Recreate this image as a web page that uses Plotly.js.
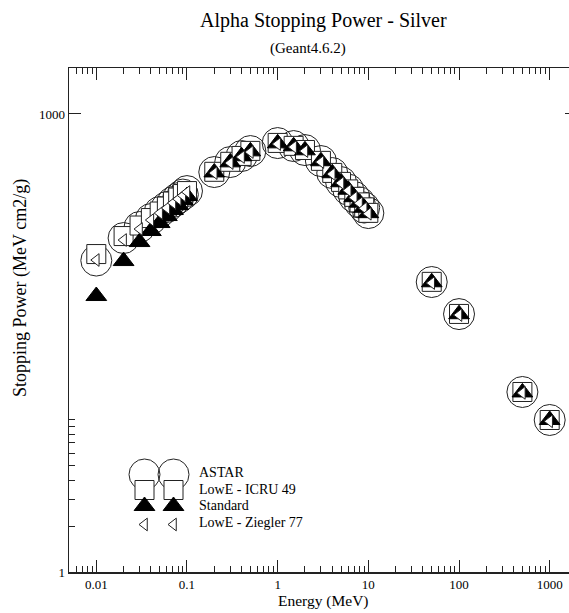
<!DOCTYPE html>
<html>
<head>
<meta charset="utf-8">
<script src="https://cdn.plot.ly/plotly-3.0.1.min.js"></script>
<style>
html, body { margin: 0; padding: 0; overflow: hidden; background: #fff; }
#chart { width: 580px; height: 613px; }
</style>
</head>
<body>
<div id="chart"></div>
<script>
// ---- data (Energy in MeV, Stopping Power in MeV cm2/g) ----
const energy = [0.01, 0.02, 0.03, 0.04, 0.05, 0.06, 0.07, 0.08, 0.09, 0.1,
                0.2, 0.3, 0.4, 0.5, 1, 1.5, 2, 3, 4, 5, 6, 7, 8, 9, 10,
                50, 100, 500, 1000];
const astar = [109.6, 153.9, 181.7, 205.0, 227.9, 245.7, 264.9, 281.3, 296.6, 312.6,
               416.5, 484.2, 530.1, 571.5, 644.8, 616.3, 580.2, 491.6, 410.2, 358.1,
               319.8, 285.6, 263.0, 243.8, 224.4,
               79.3, 48.9, 15.1, 9.9];
const icru49 = [120.9, 158.6, 185.9, 208.1, 229.6, 247.5, 266.9, 283.5, 298.8, 312.6,
                418.0, 486.0, 531.0, 573.0, 646.0, 618.0, 581.0, 493.0, 411.0, 359.0,
                320.5, 286.5, 263.5, 244.5, 225.0,
                79.5, 49.0, 15.1, 9.9];
const standard = [64.2, 108.8, 144.9, 171.1, 193.0, 214.5, 234.8, 253.2, 273.0, 290.0,
                  414.0, 482.0, 528.0, 569.0, 642.0, 614.0, 578.0, 490.0, 409.0, 357.0,
                  319.0, 285.0, 262.5, 243.0, 224.0,
                  79.0, 48.8, 15.0, 9.9];
const ziegler77 = [110.5, 149.4, 176.3, 202.0, 224.4, 242.0, 261.0, 277.2, 292.2, 308.0,
                   410.2, 477.0, 522.2, 563.0, 635.2, 607.1, 571.5, 484.2, 404.1, 352.8,
                   315.0, 283.0, 260.0, 241.0, 222.0,
                   78.1, 48.2, 14.9, 9.7];

const seriesNames = ["ASTAR", "LowE - ICRU 49", "Standard", "LowE - Ziegler 77"];

// ---- ticks ----
const xMajorVals = [0.01, 0.1, 1, 10, 100, 1000];
const xMajorText = ["0.01", "0.1", "1", "10", "100", "1000"];
const yMajorVals = [1, 1000];
const yMajorText = ["1", "1000"];
const yMinorVals = [2, 3, 4, 5, 6, 7, 8, 9, 10];
const xMinorVals = [];
[0.001, 0.01, 0.1, 1, 10, 100, 1000].forEach(function (d) {
  for (let m = 2; m <= 9; m++) {
    const v = d * m;
    if (v > 0.005 && v < 2000) xMinorVals.push(v);
  }
});

// ---- styles ----
const FONT = "Liberation Serif";
const INK = "#222";
const styles = [
  { symbol: "circle", size: 31, color: "rgba(255,255,255,0)", line: { color: INK, width: 1 } },
  { symbol: "square", size: 19, color: "#fff", line: { color: INK, width: 1 } },
  { symbol: "triangle-up", size: 18, color: "#000", line: { color: "#000", width: 1 } },
  { symbol: "triangle-left", size: 11, color: "#fff", line: { color: INK, width: 1 } }
];
const seriesVals = [astar, icru49, standard, ziegler77];

const traces = seriesVals.map(function (vals, i) {
  return {
    type: "scatter", mode: "markers", name: seriesNames[i],
    x: energy, y: vals, xaxis: "x", yaxis: "y",
    marker: styles[i], cliponaxis: false, showlegend: false, hoverinfo: "skip"
  };
});

// ---- hand-drawn legend (two symbol columns, as in the original) ----
const LEG = { cols: [144.5, 173.5], rows: [474.5, 490, 506, 524.5], textX: 197, textRows: [472.5, 489, 505.5, 522.5] };
seriesNames.forEach(function (n, i) {
  traces.push({
    type: "scatter", mode: "markers", x: LEG.cols, y: [LEG.rows[i], LEG.rows[i]],
    xaxis: "x2", yaxis: "y2", marker: styles[i], cliponaxis: false,
    showlegend: false, hoverinfo: "skip"
  });
});

const annotations = [
  { text: "Alpha Stopping Power - Silver", xref: "paper", yref: "paper", x: 0.5, y: 1,
    xanchor: "center", yanchor: "middle", yshift: 48, showarrow: false,
    font: { family: FONT, size: 20, color: "#000" } },
  { text: "(Geant4.6.2)", xref: "paper", yref: "paper", x: 0.47, y: 1,
    xanchor: "center", yanchor: "middle", yshift: 20, showarrow: false,
    font: { family: FONT, size: 15, color: "#000" } },
  { text: "Energy (MeV)", xref: "paper", yref: "paper", x: 0.5, y: 0,
    xanchor: "center", yanchor: "middle", yshift: -29, showarrow: false,
    font: { family: FONT, size: 15.5, color: "#000" } },
  { text: "Stopping Power (MeV cm2/g)", xref: "paper", yref: "paper", x: 0, y: (572 - 288) / 504,
    xanchor: "center", yanchor: "middle", xshift: -49, textangle: -90, showarrow: false,
    font: { family: FONT, size: 18, color: "#000" } }
];
seriesNames.forEach(function (n, i) {
  annotations.push({ text: n, xref: "x2", yref: "y2", x: LEG.textX, y: LEG.textRows[i],
    xanchor: "left", yanchor: "middle", showarrow: false,
    font: { family: FONT, size: 14, color: "#000" } });
});

const axisCommon = {
  type: "log", ticks: "inside", ticklen: 12, tickwidth: 1, tickcolor: INK,
  showline: true, linecolor: INK, linewidth: 1.5, mirror: "ticks",
  showgrid: false, zeroline: false,
  tickfont: { family: FONT, size: 13, color: "#000" }
};

const layout = {
  width: 580, height: 613,
  margin: { l: 69, r: 3, t: 68, b: 41, pad: 0 },
  paper_bgcolor: "#fff", plot_bgcolor: "#fff",
  showlegend: false,
  xaxis: Object.assign({}, axisCommon, {
    range: [Math.log10(0.005), Math.log10(2000)],
    tickmode: "array", tickvals: xMajorVals, ticktext: xMajorText,
    minor: { tickmode: "array", tickvals: xMinorVals, ticks: "inside", ticklen: 6, tickwidth: 1, tickcolor: INK, showgrid: false }
  }),
  yaxis: Object.assign({}, axisCommon, {
    range: [0, Math.log10(2000)],
    tickmode: "array", tickvals: yMajorVals, ticktext: yMajorText,
    minor: { tickmode: "array", tickvals: yMinorVals, ticks: "inside", ticklen: 6, tickwidth: 1, tickcolor: INK, showgrid: false }
  }),
  xaxis2: { overlaying: "x", anchor: "y2", range: [69, 577], visible: false, fixedrange: true },
  yaxis2: { overlaying: "y", anchor: "x2", range: [572, 68], visible: false, fixedrange: true },
  annotations: annotations
};

Plotly.newPlot("chart", traces, layout, { staticPlot: true, displayModeBar: false });
</script>
</body>
</html>
